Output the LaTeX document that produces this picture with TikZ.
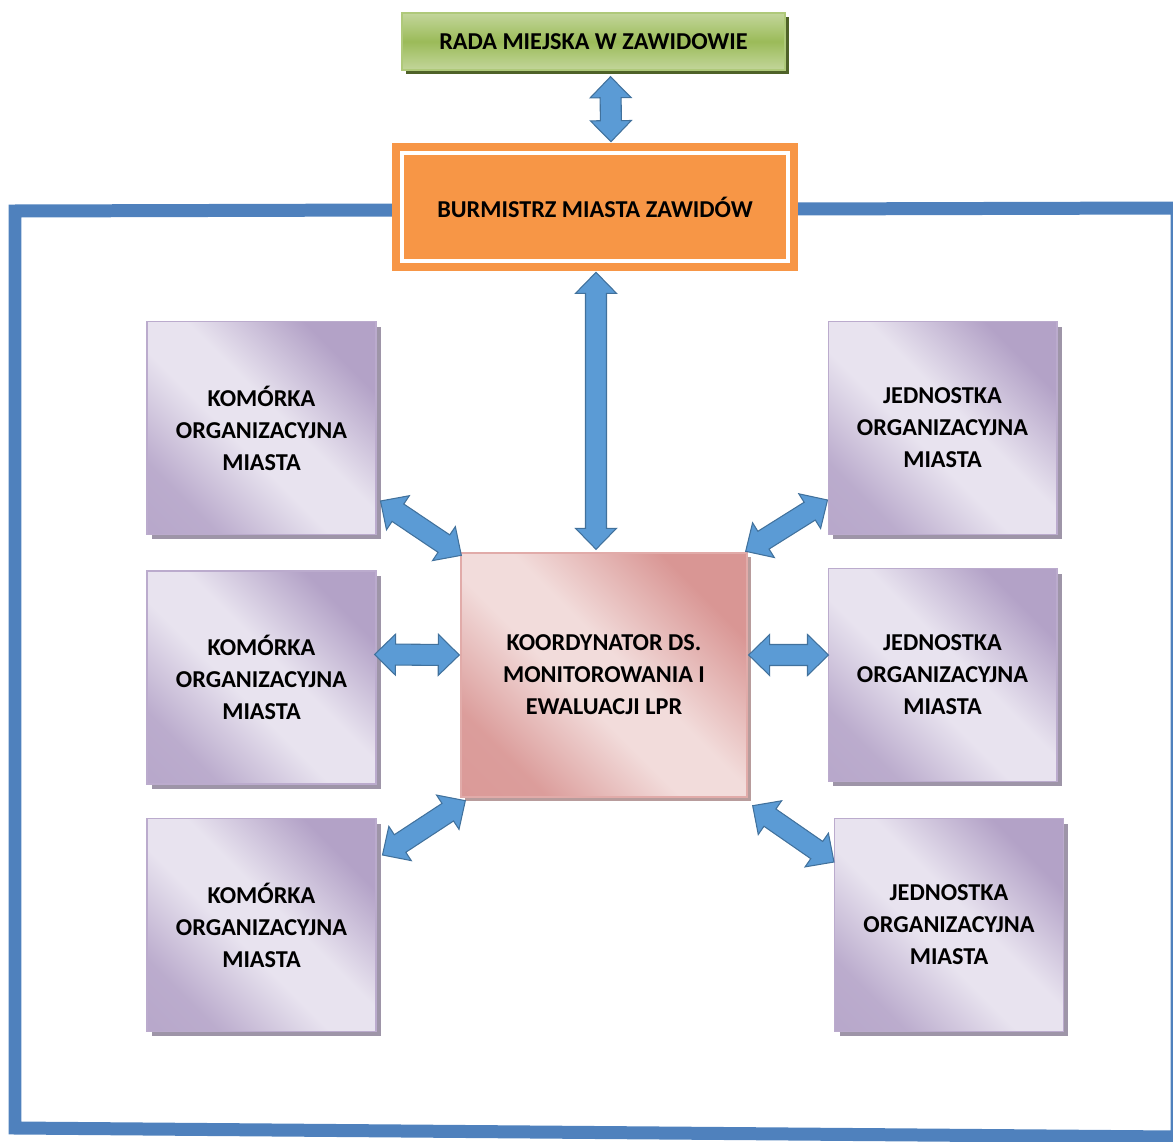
\documentclass[tikz,border=0pt]{standalone}
\usepackage{fontspec}
\setmainfont{Carlito}
\usetikzlibrary{calc,shadows}
\definecolor{frameblue}{HTML}{4F81BD}
\definecolor{arrfill}{HTML}{5B9BD5}
\definecolor{arrdraw}{HTML}{41719C}
\definecolor{purdark}{HTML}{B3A2C7}
\definecolor{purlight}{HTML}{E8E3EF}
\definecolor{purshadow}{HTML}{9E95A8}
\definecolor{pinkdark}{HTML}{D99694}
\definecolor{pinklight}{HTML}{F2DCDB}
\definecolor{pinkshadow}{HTML}{B89C9C}
\definecolor{grnmid}{HTML}{9BBB59}
\definecolor{grnlight}{HTML}{C3D69B}
\definecolor{grndark}{HTML}{4F6228}
\definecolor{orng}{HTML}{F79646}
\pgfdeclareverticalshading{purshade}{100bp}{color(0bp)=(purdark); color(26bp)=(purdark!85!purlight); color(44bp)=(purlight); color(55bp)=(purlight); color(74bp)=(purdark); color(100bp)=(purdark)}
\pgfdeclareverticalshading{pinkshade}{100bp}{color(0bp)=(pinkdark); color(26bp)=(pinkdark!90!pinklight); color(44bp)=(pinklight); color(54bp)=(pinklight); color(74bp)=(pinkdark); color(100bp)=(pinkdark)}
\newcommand\fatarrow[2]{%
 \coordinate (fa1) at (#1); \coordinate (fa2) at (#2);
 \coordinate (fh1) at ($(fa1)!0.42cm!(fa2)$);
 \coordinate (fh2) at ($(fa2)!0.42cm!(fa1)$);
 \filldraw[arrowsty] (fa1) -- ($(fh1)!0.41cm!90:(fa2)$) -- ($(fh1)!0.21cm!90:(fa2)$)
   -- ($(fh2)!0.21cm!-90:(fa1)$) -- ($(fh2)!0.41cm!-90:(fa1)$) -- (fa2)
   -- ($(fh2)!0.41cm!90:(fa1)$) -- ($(fh2)!0.21cm!90:(fa1)$)
   -- ($(fh1)!0.21cm!-90:(fa2)$) -- ($(fh1)!0.41cm!-90:(fa2)$) -- cycle;
}
\tikzset{
 arrowsty/.style={fill=arrfill, draw=arrdraw, line width=0.6pt, line join=miter},
 txt/.style={align=center, font=\fontsize{13.8}{18.2}\selectfont\bfseries, text=black},
 purbox/.style={txt, draw=purdark!90, line width=0.6pt, shade, shading=purshade, shading angle=-45,
   minimum width=4.58cm, minimum height=4.26cm, inner sep=0pt,
   general shadow={fill=purshadow, shadow xshift=0.1cm, shadow yshift=-0.1cm}},
 pinkbox/.style={txt, draw=pinkdark!80, line width=0.8pt, shade, shading=pinkshade, shading angle=-45,
   minimum width=5.72cm, minimum height=4.88cm, inner sep=0pt,
   general shadow={fill=pinkshadow, shadow xshift=0.08cm, shadow yshift=-0.08cm}},
 grnbox/.style={txt, draw=grnmid!80, line width=0.8pt, shade,
   top color=grnlight, bottom color=grnlight, middle color=grnmid,
   minimum width=7.66cm, minimum height=1.14cm, inner sep=0pt,
   general shadow={fill=grndark, shadow xshift=0.08cm, shadow yshift=-0.08cm}},
 orbox/.style={txt, fill=orng, minimum width=8.12cm, minimum height=2.56cm, inner sep=0pt},
 frame/.style={draw=frameblue, line width=0.26cm, line join=miter}
}
\begin{document}
\begin{tikzpicture}[x=0.02cm, y=-0.02cm]
\useasboundingbox (0,0) rectangle (1173,1142);
% outer frame
\coordinate (f1) at (15,211);
\coordinate (f2) at (1177,208);
\coordinate (f3) at (1177,1137);
\coordinate (f4) at (15,1128);
\draw[frame] (f1) -- (f2) -- (f3) -- (f4) -- cycle;
% top boxes
\node[grnbox] (rada) at (593.5,41.5) {RADA MIEJSKA W ZAWIDOWIE};
\node[orbox] (burm) at (595,207) {BURMISTRZ MIASTA ZAWIDÓW};
\draw[white, line width=0.08cm] ($(burm.north west)+(10,10)$) rectangle ($(burm.south east)+(-10,-10)$);
% central box
\node[pinkbox] (koord) at (604,675) {KOORDYNATOR DS.\\MONITOROWANIA I\\EWALUACJI LPR};
% left boxes
\node[purbox] (k1) at (261.5,428) {KOMÓRKA\\ORGANIZACYJNA\\MIASTA};
\node[purbox] (k2) at (261.5,677.5) {KOMÓRKA\\ORGANIZACYJNA\\MIASTA};
\node[purbox] (k3) at (261.5,925) {KOMÓRKA\\ORGANIZACYJNA\\MIASTA};
% right boxes
\node[purbox] (j1) at (942.5,428) {JEDNOSTKA\\ORGANIZACYJNA\\MIASTA};
\node[purbox] (j2) at (942.5,675) {JEDNOSTKA\\ORGANIZACYJNA\\MIASTA};
\node[purbox] (j3) at (949,925) {JEDNOSTKA\\ORGANIZACYJNA\\MIASTA};
% arrows
\fatarrow{$(rada.south)+(17,6)$}{$(burm.north)+(16,-1)$}
\fatarrow{$(burm.south)+(1,1)$}{$(koord.north)+(-8,-3)$}
\fatarrow{$(k1.east)+(4,73)$}{$(koord.north west)+(1,3)$}
\fatarrow{$(k2.east)+(-2,-23)$}{$(koord.west)+(-1,-20)$}
\fatarrow{$(k3.east)+(6,-70)$}{$(koord.south west)+(5,3)$}
\fatarrow{$(koord.north east)+(-2,-1)$}{$(j1.west)+(0,72)$}
\fatarrow{$(koord.east)+(1,-20)$}{$(j2.west)+(1,-20)$}
\fatarrow{$(koord.south east)+(5,8)$}{$(j3.west)+(0,-63)$}
\end{tikzpicture}
\end{document}
